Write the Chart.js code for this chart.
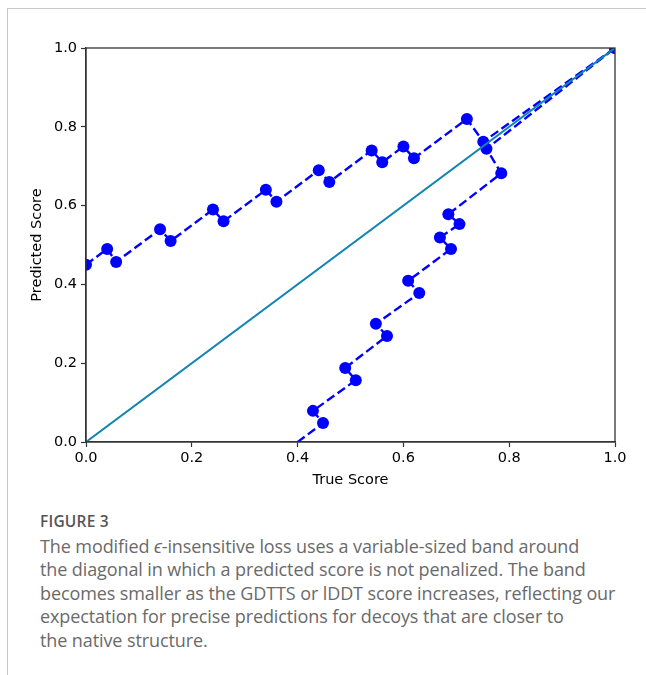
<!DOCTYPE html>
<html>
<head>
<meta charset="utf-8">
<script src="https://cdn.jsdelivr.net/npm/chart.js@4/dist/chart.umd.min.js"></script>
<style>
    html, body { margin: 0; padding: 0; background: #fff; }
    body { width: 646px; height: 675px; position: relative; overflow: hidden; }
    #frame {
        position: absolute; left: 7px; top: 8px; right: 0; bottom: 0;
        border-left: 1px solid #c8c8c8; border-top: 1px solid #c8c8c8;
    }
    #chart-box { position: absolute; left: 0; top: 0; width: 646px; height: 500px; }
    #caption {
        position: absolute; left: 40px; top: 510px;
        font-family: "Open Sans", sans-serif; color: #6a6a6a;
        font-size: 18px; line-height: 23.6px; white-space: nowrap;
        letter-spacing: -0.1px;
    }
    #caption .label { color: #555; font-weight: 600; font-size: 15.5px; letter-spacing: 0.2px; margin-bottom: 1px; }
</style>
</head>
<body>
<div id="frame"></div>
<div id="chart-box"><canvas id="band_chart" width="646" height="500"></canvas></div>
<div id="caption">
    <div class="label">FIGURE 3</div>
    The modified <i>ϵ</i>-insensitive loss uses a variable-sized band around<br>
    the diagonal in which a predicted score is not penalized. The band<br>
    becomes smaller as the GDTTS or lDDT score increases, reflecting our<br>
    expectation for precise predictions for decoys that are closer to<br>
    the native structure.
</div>
<script>
const upperX = [0.0, 0.04, 0.057, 0.14, 0.16, 0.24, 0.26, 0.34, 0.36, 0.44, 0.46, 0.54, 0.56, 0.60, 0.62, 0.72, 0.751, 1.0];
const upperY = [0.45, 0.49, 0.457, 0.54, 0.51, 0.59, 0.56, 0.64, 0.61, 0.69, 0.66, 0.74, 0.71, 0.75, 0.72, 0.82, 0.762, 1.0];

const lowerX = [0.38, 0.448, 0.429, 0.51, 0.49, 0.569, 0.548, 0.63, 0.609, 0.69, 0.669, 0.706, 0.685, 0.785, 0.757, 1.0];
const lowerY = [-0.02, 0.048, 0.079, 0.157, 0.188, 0.269, 0.30, 0.378, 0.409, 0.49, 0.519, 0.553, 0.578, 0.682, 0.744, 1.0];

const diagonalX = [0.0, 1.0];
const diagonalY = [0.0, 1.0];

const xTicks = [0.0, 0.2, 0.4, 0.6, 0.8, 1.0];
const yTicks = [0.0, 0.2, 0.4, 0.6, 0.8, 1.0];

const bandColor = '#0000ff';
const diagonalColor = '#1285b2';
const axisColor = '#333';
const tickFont = { family: 'DejaVu Sans', size: 14.5 };

function toPoints(xs, ys) {
    return xs.map((x, i) => ({ x: x, y: ys[i] }));
}

function bandDataset(xs, ys) {
    return {
        data: toPoints(xs, ys),
        showLine: true,
        borderColor: bandColor,
        backgroundColor: bandColor,
        borderWidth: 2.4,
        borderDash: [9, 4],
        pointRadius: 6,
        pointHoverRadius: 6,
        pointBorderWidth: 0,
        clip: 0,
    };
}

// spines on all four sides, like the original figure
const frameBox = {
    id: 'frameBox',
    afterDatasetsDraw(chart) {
        const { ctx, chartArea } = chart;
        ctx.save();
        ctx.strokeStyle = axisColor;
        ctx.lineWidth = 1.3;
        ctx.strokeRect(chartArea.left, chartArea.top, chartArea.right - chartArea.left, chartArea.bottom - chartArea.top);
        ctx.restore();
    }
};

new Chart('band_chart', {
    type: 'scatter',
    data: {
        datasets: [
            {
                data: toPoints(diagonalX, diagonalY),
                showLine: true,
                borderColor: diagonalColor,
                borderWidth: 2,
                pointRadius: 0,
                clip: 0,
            },
            bandDataset(upperX, upperY),
            bandDataset(lowerX, lowerY),
        ]
    },
    options: {
        responsive: false,
        animation: false,
        events: [],
        layout: { padding: { left: 0, right: 31, top: 48, bottom: 0 } },
        plugins: {
            legend: { display: false },
            tooltip: { enabled: false },
        },
        scales: {
            x: {
                type: 'linear',
                min: 0,
                max: 1,
                afterFit(scale) { scale.height = 58; },
                afterBuildTicks(scale) { scale.ticks = xTicks.map(v => ({ value: v })); },
                grid: { drawOnChartArea: false, color: axisColor, tickLength: 5, tickWidth: 1.2 },
                border: { color: axisColor, width: 1.3 },
                ticks: {
                    font: tickFont,
                    color: '#000',
                    padding: 3,
                    maxRotation: 0,
                    callback: v => v.toFixed(1),
                },
                title: {
                    display: true,
                    text: 'True Score',
                    font: tickFont,
                    color: '#000',
                    padding: { top: 0, bottom: 11 },
                },
            },
            y: {
                type: 'linear',
                min: 0,
                max: 1,
                afterFit(scale) { scale.width = 86; },
                afterBuildTicks(scale) { scale.ticks = yTicks.map(v => ({ value: v })); },
                grid: { drawOnChartArea: false, color: axisColor, tickLength: 5, tickWidth: 1.2 },
                border: { color: axisColor, width: 1.3 },
                ticks: {
                    font: tickFont,
                    color: '#000',
                    padding: 4,
                    callback: v => v.toFixed(1),
                },
                title: {
                    display: true,
                    text: 'Predicted Score',
                    font: tickFont,
                    color: '#000',
                    padding: { top: 29, bottom: 0 },
                },
            },
        },
    },
    plugins: [frameBox],
});
</script>
</body>
</html>
